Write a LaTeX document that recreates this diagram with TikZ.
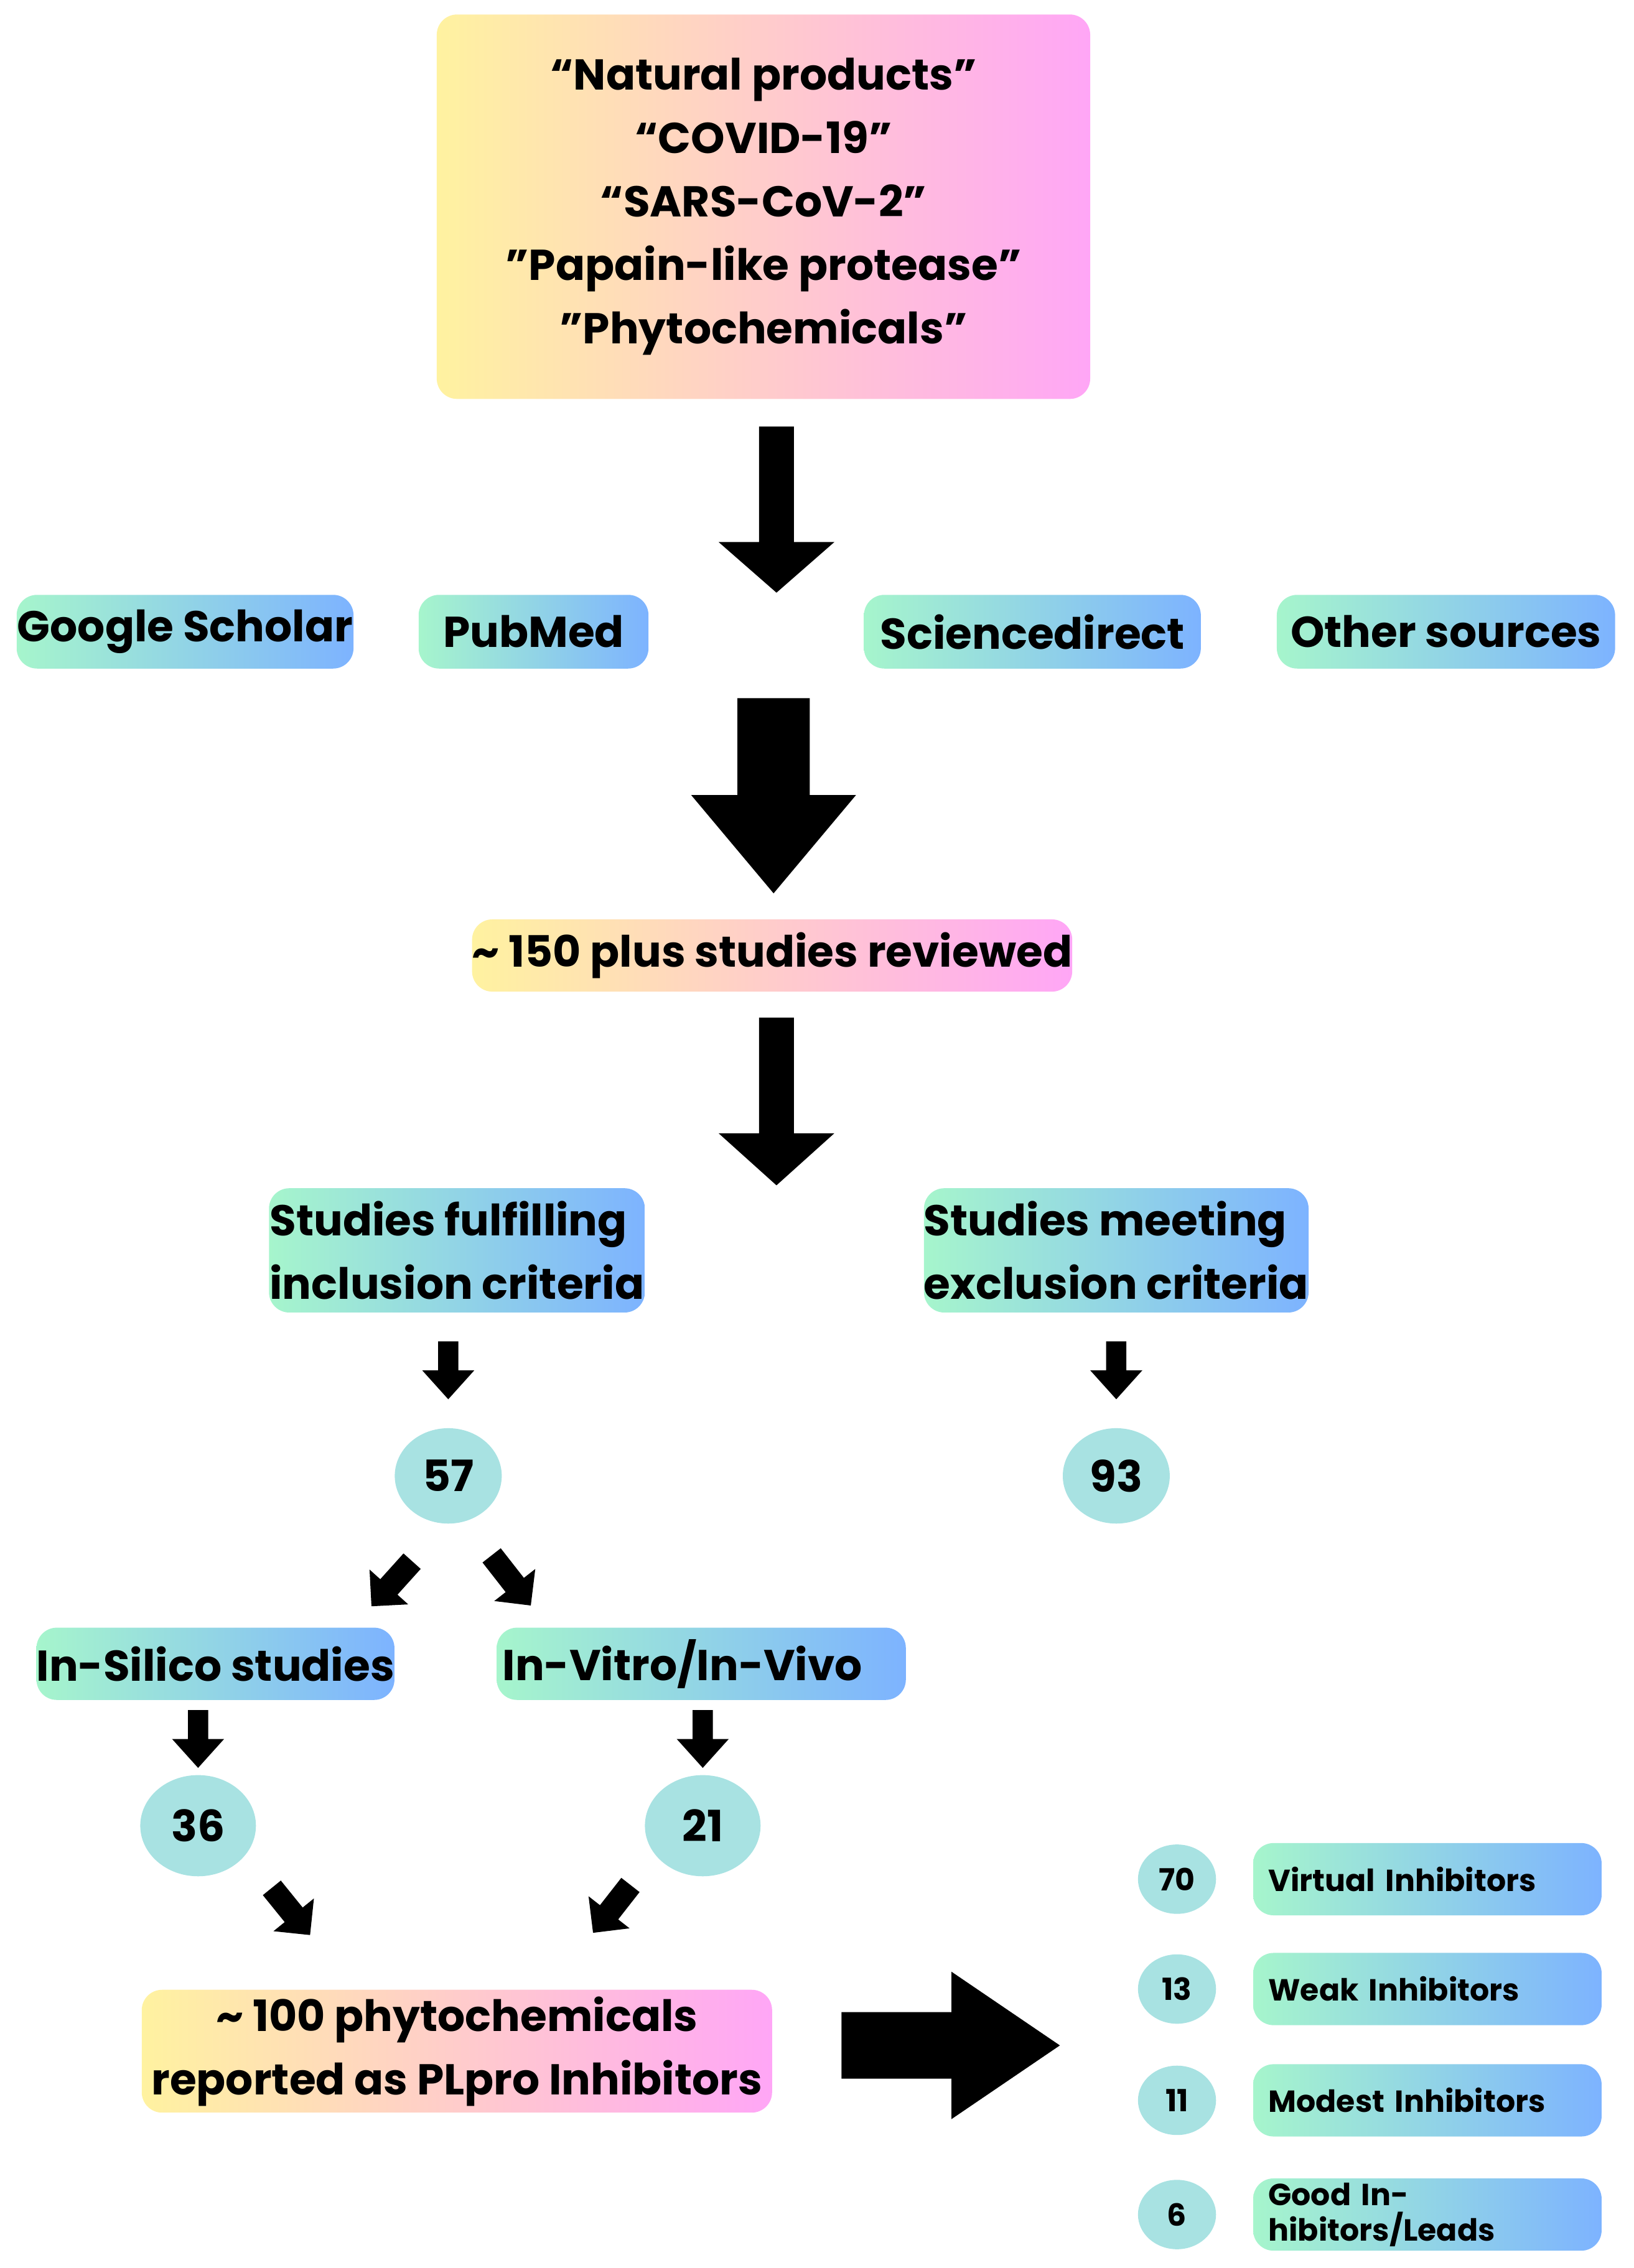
\documentclass[tikz,border=0pt]{standalone}
\usepackage{fontspec}
\setmainfont{Poppins}
\usetikzlibrary{positioning,shapes.geometric}

\definecolor{ylw}{HTML}{FFF2A0}
\definecolor{pnk}{HTML}{FFA6F6}
\definecolor{grn}{HTML}{A6F5CC}
\definecolor{blu}{HTML}{7DB3FF}
\definecolor{teal}{HTML}{A8E2E2}

\tikzset{
    box/.style={rounded corners=8pt, inner sep=0pt, align=center, font=\fontsize{17}{25}\selectfont\bfseries},
    gy/.style={box, left color=ylw, right color=pnk, draw=none},
    gb/.style={box, left color=grn, right color=blu, draw=none},
    num/.style={ellipse, fill=teal, inner sep=0pt, font=\fontsize{17}{20}\selectfont\bfseries},
    small/.style={gb, align=left, text width=4.4cm, font=\fontsize{12}{14}\selectfont\bfseries},
    pics/barrow/.style n args={4}{code={
        \fill (0,-#2) -- (#1-#4,-#2) -- (#1-#4,-#3) -- (#1,0) -- (#1-#4,#3) -- (#1-#4,#2) -- (0,#2) -- cycle;
    }}
}

\begin{document}
\begin{tikzpicture}[x=0.02cm, y=-0.02cm]
    \useasboundingbox (0,0) rectangle (1130,1569);

    % Search terms
    \node[gy, minimum width=9.04cm, minimum height=5.32cm] (terms) at (528,143)
        {“Natural products”\\“COVID-19”\\“SARS-CoV-2”\\"Papain-like protease"\\"Phytochemicals"};
    \pic[rotate=-90] at (537,295) {barrow={115}{12}{40}{35}};

    % Databases
    \node[gb, minimum width=4.66cm, minimum height=1.02cm] (scholar) at (128,437) {Google Scholar};
    \node[gb, minimum width=3.18cm, minimum height=1.02cm] (pubmed) at (369,437) {PubMed};
    \node[gb, minimum width=4.66cm, minimum height=1.02cm] (sdirect) at (714,437) {Sciencedirect};
    \node[gb, minimum width=4.68cm, minimum height=1.02cm] (other) at (1000,437) {Other sources};
    \pic[rotate=-90] at (535,483) {barrow={135}{25}{57}{68}};

    % Reviewed
    \node[gy, minimum width=8.08cm, minimum height=1.0cm] (reviewed) at (534,661) {\char`~\ 150 plus studies reviewed};
    \pic[rotate=-90] at (537,704) {barrow={116}{12}{40}{36}};

    % Inclusion / exclusion
    \node[gb, align=left, minimum width=5.2cm, minimum height=1.72cm] (incl) at (316,865) {Studies fulfilling\\inclusion criteria};
    \node[gb, align=left, minimum width=5.3cm, minimum height=1.72cm] (excl) at (772,865) {Studies meeting\\exclusion criteria};
    \pic[rotate=-90] at (310,928) {barrow={40}{7}{18}{20}};
    \pic[rotate=-90] at (772,928) {barrow={40}{7}{18}{20}};
    \node[num, minimum width=1.48cm, minimum height=1.32cm] (n57) at (310,1021) {57};
    \node[num, minimum width=1.48cm, minimum height=1.32cm] (n93) at (772,1021) {93};

    % Study types
    \pic[rotate=-132] at (285,1080) {barrow={42}{8}{18}{18}};
    \pic[rotate=-52] at (340,1076) {barrow={44}{8}{18}{18}};
    \node[gb, minimum width=4.84cm, minimum height=1.0cm] (silico) at (149,1151) {In-Silico studies};
    \node[gb, align=left, text width=5.5cm, minimum width=5.66cm, minimum height=1.0cm] (vitro) at (485,1151) {In-Vitro/In-Vivo};
    \pic[rotate=-90] at (137,1183) {barrow={40}{7}{18}{20}};
    \pic[rotate=-90] at (486,1183) {barrow={40}{7}{18}{20}};
    \node[num, minimum width=1.6cm, minimum height=1.4cm] (n36) at (137,1263) {36};
    \node[num, minimum width=1.6cm, minimum height=1.4cm] (n21) at (486,1263) {21};
    \pic[rotate=-51] at (188,1306) {barrow={42}{8}{18}{18}};
    \pic[rotate=-128] at (436,1304) {barrow={42}{8}{18}{18}};

    % Result
    \node[gy, minimum width=8.72cm, minimum height=1.7cm] (result) at (316,1419) {\char`~\ 100 phytochemicals\\reported as PLpro Inhibitors};
    \pic at (582,1415) {barrow={151}{23}{51}{75}};

    % Categories
    \foreach \y/\n/\t/\nm in {1300/70/Virtual Inhibitors/virtual, 1376/13/Weak Inhibitors/weak,
                              1453/11/Modest Inhibitors/modest, 1532/6/{Good Inhibitors/Leads}/good} {
        \node[num, minimum width=1.08cm, minimum height=0.96cm, font=\fontsize{12}{14}\selectfont\bfseries] (c\nm) at (814,\y) {\n};
        \node[small, minimum width=4.82cm, minimum height=1.0cm, right=0.5cm of c\nm] (\nm) {\t};
    }
\end{tikzpicture}
\end{document}
